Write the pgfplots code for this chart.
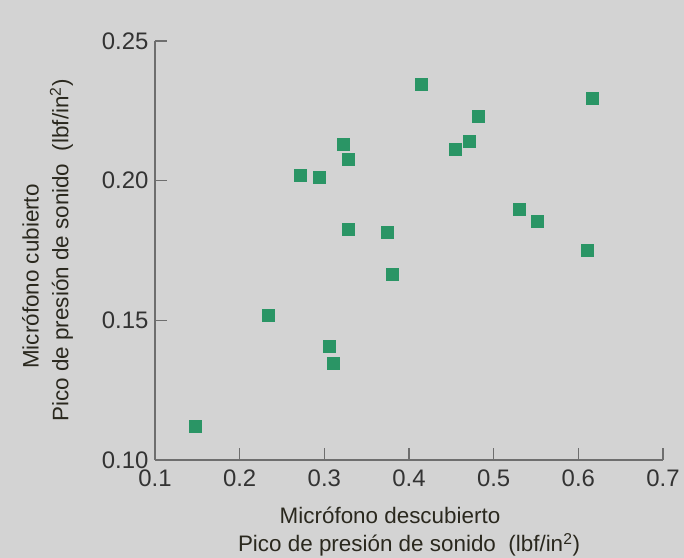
\documentclass[border=0pt]{standalone}
\usepackage{pgfplots}
\pgfplotsset{compat=1.18}
\usepackage{fontspec}
\setmainfont{Liberation Sans}
\definecolor{bg}{HTML}{D3D3D3}
\definecolor{mk}{HTML}{2A9565}
\definecolor{ax}{HTML}{6E6E6E}
\definecolor{lab}{HTML}{2A281E}
\definecolor{tk}{HTML}{333333}
\begin{document}
\begin{tikzpicture}[x=1bp,y=1bp]
\fill[bg] (0,0) rectangle (684,558);
\begin{axis}[
  at={(155bp,98bp)}, anchor=south west,
  scale only axis, width=508bp, height=419bp,
  xmin=0.1, xmax=0.7, ymin=0.10, ymax=0.25,
  axis x line*=bottom, axis y line*=left,
  axis line style={ax, line width=1.6bp},
  xtick={0.1,0.2,0.3,0.4,0.5,0.6,0.7},
  ytick={0.10,0.15,0.20,0.25},
  /pgf/number format/assume math mode=true,
  xticklabel style={/pgf/number format/fixed, /pgf/number format/precision=1, yshift=-6bp},
  yticklabel style={/pgf/number format/fixed, /pgf/number format/fixed zerofill, /pgf/number format/precision=2, xshift=-3bp},
  tick style={ax, line width=1.4bp}, major tick length=12bp,
  ticklabel style={font=\fontsize{24}{26}\selectfont, text=tk},
  label style={font=\fontsize{22.5}{28}\selectfont, text=lab, align=center},
  xlabel={Micrófono descubierto\hspace*{38bp}\\Pico de presión de sonido\ \ (lbf/in\textsuperscript{2})},
  ylabel={Micrófono cubierto\hspace*{52bp}\\[2bp]Pico de presión de sonido\ \ (lbf/in\textsuperscript{2})},
  xlabel shift=14bp,
  ylabel shift=22bp,
  clip=false,
]
\addplot[only marks, mark=square*, mark size=6bp, mk, mark options={draw=mk, fill=mk}] coordinates {
(0.148,0.112)
(0.234,0.1518)
(0.2715,0.2019)
(0.294,0.2014)
(0.322,0.2131)
(0.3276,0.2077)
(0.3276,0.1828)
(0.306,0.1409)
(0.3106,0.1347)
(0.374,0.1814)
(0.3796,0.1665)
(0.414,0.2344)
(0.454,0.2112)
(0.471,0.2140)
(0.4816,0.2231)
(0.530,0.1899)
(0.5516,0.1856)
(0.6108,0.1750)
(0.6165,0.2294)
};
\end{axis}
\pgfresetboundingbox
\useasboundingbox (0,0) rectangle (684,558);
\end{tikzpicture}
\end{document}
